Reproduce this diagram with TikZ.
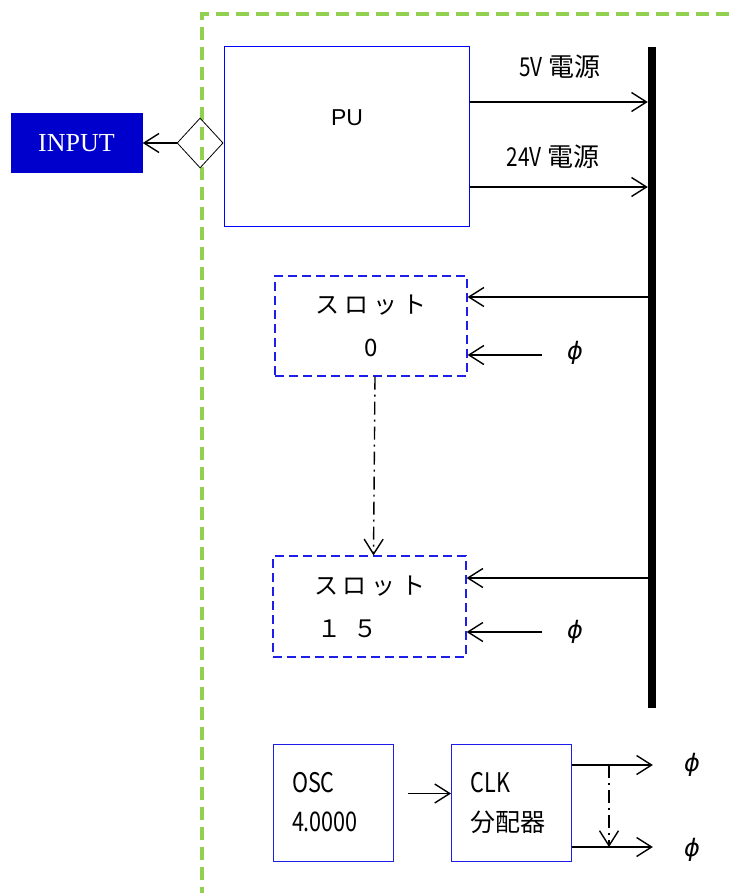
\documentclass[tikz,border=0pt]{standalone}
\usepackage{fontspec}
\setmainfont{Liberation Serif}
\newfontfamily\jpfont{Noto Sans CJK JP}
\newfontfamily\hwfont[FakeStretch=0.8]{Noto Sans CJK JP}
\newfontfamily\pufont{Liberation Sans}
\newfontfamily\phifont{DejaVu Sans}
\usetikzlibrary{arrows.meta,positioning,shapes.geometric,calc}
\definecolor{framegreen}{RGB}{146,208,80}
\definecolor{inputblue}{RGB}{0,0,204}
\definecolor{boxblue}{RGB}{30,30,235}
\newcommand{\slotword}{ス\kern5ptロ\kern5ptッ\kern5ptト}
\newcommand{\clockphi}{{\phifont\itshape ϕ}}

\begin{document}
\begin{tikzpicture}[
  x=1pt, y=-1pt,
  box/.style={draw=boxblue, line width=1pt, inner sep=0},
  slotbox/.style={draw=boxblue, line width=1.2pt, dash pattern=on 9pt off 5pt, minimum width=192pt, minimum height=100pt, align=center, font=\jpfont\fontsize{24}{43}\selectfont},
  clkbox/.style={box, minimum width=120pt, minimum height=117pt, text width=82pt, align=left, font=\fontsize{27}{39}\selectfont},
  phi/.style={inner sep=3pt, font=\fontsize{24}{24}\selectfont},
  arr/.style={-{Straight Barb[length=15pt,width=19pt]}, line width=1.4pt},
  dd/.style={arr, dash pattern=on 13pt off 5pt on 2pt off 5pt}
]
\useasboundingbox (0,0) rectangle (732,893);

% frame
\draw[framegreen, line width=4pt, dash pattern=on 13pt off 7pt] (202,900) -- (202,14) -- (740,14);

% power unit and input
\node[box, draw=blue, minimum width=245pt, minimum height=180pt] (pu) at (346.5,137) {};
\node[font=\pufont\fontsize{23}{23}\selectfont] (putext) at (347,118) {PU};
\node[draw, diamond, line width=0.8pt, minimum width=46pt, minimum height=50pt, inner sep=0, anchor=east] (dia) at ([yshift=-6pt]pu.west) {};
\node[fill=inputblue, text=white, minimum width=132pt, minimum height=60pt, font=\fontsize{26}{26}\selectfont, left=34pt of dia] (input) {INPUT};
\draw[arr] (dia.west) -- (input.east);

% bus
\node[fill=black, minimum width=8pt, minimum height=661pt, inner sep=0] (bus) at (652,377.5) {};
\draw[arr] ([yshift=35pt]pu.east) coordinate (v5) -- (v5 -| bus.west);
\draw[arr] ([yshift=-50pt]pu.east) coordinate (v24) -- (v24 -| bus.west);
\node[font=\jpfont\fontsize{26}{26}\selectfont] (l5) at (560,67) {{\hwfont 5V}\kern6pt 電源};
\node[font=\jpfont\fontsize{26}{26}\selectfont] (l24) at (553,157) {{\hwfont 24V}\kern6pt 電源};

% slots
\node[slotbox] (s0) at (371,326) {\slotword\\0};
\node[slotbox, minimum width=193pt, minimum height=101pt] (s15) at (369.5,606.5) {\slotword\\１\kern12pt５\kern44pt};
\draw[arr] (bus.west |- 0,297) coordinate (b0) -- (b0 -| s0.east);
\draw[arr] (bus.west |- 0,578) coordinate (b15) -- (b15 -| s15.east);
\node[phi] (phi0) at (575,353) {\clockphi};
\node[phi] (phi15) at (575,632) {\clockphi};
\draw[arr] ([xshift=-22pt]phi0.west |- 0,355) coordinate (f0) -- (f0 -| s0.east);
\draw[arr] ([xshift=-22pt]phi15.west |- 0,632) coordinate (f15) -- (f15 -| s15.east);
\draw[dd] ([xshift=4pt]s0.south) -- ([xshift=4pt]s15.north);

% clock
\node[clkbox] (osc) at (333,802.5) {{\hwfont OSC}\\{\hwfont 4.0000}};
\node[clkbox] (clk) at (511.5,802.5) {{\hwfont CLK}\\{\jpfont\fontsize{25}{39}\selectfont 分配器}};
\draw[arr] ($(osc.east)+(14pt,9pt)$) -- ([yshift=9pt]clk.west);
\node[phi] (phi1) at (692,765) {\clockphi};
\node[phi] (phi2) at (692,850) {\clockphi};
\draw[arr] (clk.east |- 0,765) coordinate (c1) -- ([xshift=-28pt]phi1.west |- c1);
\draw[arr] (clk.east |- 0,847) coordinate (c2) -- ([xshift=-28pt]phi2.west |- c2);
\draw[dd] ($(c1)+(37pt,0)$) -- ($(c2)+(37pt,0)$);
\end{tikzpicture}
\end{document}
